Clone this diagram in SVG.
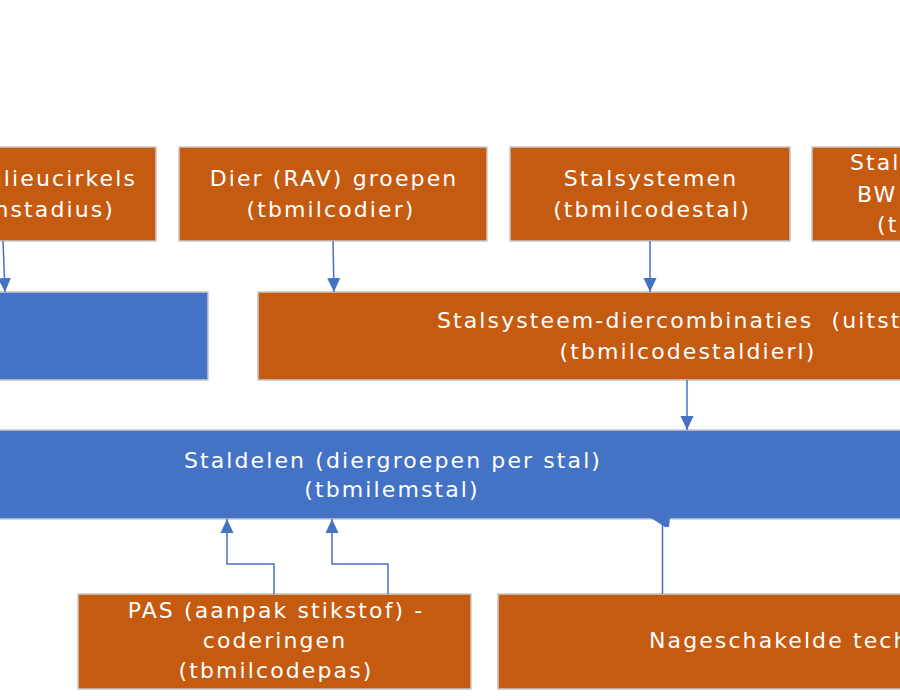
<svg xmlns="http://www.w3.org/2000/svg" width="900" height="700" viewBox="0 0 900 700">
<style>
  .or { fill: #C55A11; stroke: #C9C9C9; stroke-width: 1.5; }
  .bl { fill: #4472C4; stroke: #C9C9C9; stroke-width: 1.5; }
  .t { font-family: "DejaVu Sans", Verdana, sans-serif; font-size: 22px; letter-spacing: 2.1px; fill: #FFFFFF; white-space: pre; }
  .m { text-anchor: middle; }
  .e { text-anchor: end; }
  .c { fill: none; stroke: #4472C4; stroke-width: 1.5; }
</style>
<defs>
  <marker id="arr" markerUnits="userSpaceOnUse" markerWidth="14" markerHeight="15" viewBox="0 0 15 14" refX="15" refY="7" orient="auto">
    <path d="M0,0 L15,7 L0,14 z" fill="#4472C4"/>
  </marker>
</defs>
<rect width="900" height="700" fill="#FFFFFF"/>

<g id="milieucirkels">
  <rect class="or" x="-5" y="147" width="161" height="94"/>
  <text class="t e" x="137" y="186">ilieucirkels</text>
  <text class="t e" x="115" y="217">nstadius)</text>
</g>
<g id="diergroepen">
  <rect class="or" x="179" y="147" width="308" height="94"/>
  <text class="t m" x="334" y="186">Dier (RAV) groepen</text>
  <text class="t m" x="331" y="217">(tbmilcodier)</text>
</g>
<g id="stalsystemen">
  <rect class="or" x="510" y="147" width="280" height="94"/>
  <text class="t m" x="651" y="186">Stalsystemen</text>
  <text class="t m" x="652" y="217">(tbmilcodestal)</text>
</g>
<g id="stalsystemen-bwl">
  <rect class="or" x="812" y="147" width="100" height="94"/>
  <text class="t" x="850" y="170">Stals</text>
  <text class="t" x="857" y="202">BW</text>
  <text class="t" x="877" y="232">(t</text>
</g>
<g id="blauw-links">
  <rect class="bl" x="-5" y="292" width="213" height="88"/>
</g>
<g id="stalsysteem-diercombinaties">
  <rect class="or" x="258" y="292" width="655" height="88"/>
  <text class="t" x="437" y="328">Stalsysteem-diercombinaties  (uitsto</text>
  <text class="t m" x="688" y="359">(tbmilcodestaldierl)</text>
</g>
<g id="staldelen">
  <rect class="bl" x="-5" y="430" width="918" height="89"/>
  <text class="t m" x="393" y="468">Staldelen (diergroepen per stal)</text>
  <text class="t m" x="392" y="497">(tbmilemstal)</text>
</g>
<g id="pas">
  <rect class="or" x="78" y="594" width="393" height="95"/>
  <text class="t m" x="276" y="618">PAS (aanpak stikstof) -</text>
  <text class="t m" x="275" y="648">coderingen</text>
  <text class="t m" x="276" y="678">(tbmilcodepas)</text>
</g>
<g id="nageschakelde">
  <rect class="or" x="498" y="594" width="415" height="95"/>
  <text class="t" x="649" y="648">Nageschakelde tech</text>
</g>

<g id="connectors">
  <path class="c" d="M3,241 L5,292" marker-end="url(#arr)"/>
  <path class="c" d="M333,241 L334,292" marker-end="url(#arr)"/>
  <path class="c" d="M650,241 L650,292" marker-end="url(#arr)"/>
  <path class="c" d="M687,380 L687,430" marker-end="url(#arr)"/>
  <path class="c" d="M274,594 V564 H227 V519" marker-end="url(#arr)"/>
  <path class="c" d="M388,594 V564 H332 V519" marker-end="url(#arr)"/>
  <path class="c" d="M662.5,594 V519"/>
  <polygon points="651,518 670,518 669,527 665,527" fill="#4472C4"/>
</g>
</svg>
